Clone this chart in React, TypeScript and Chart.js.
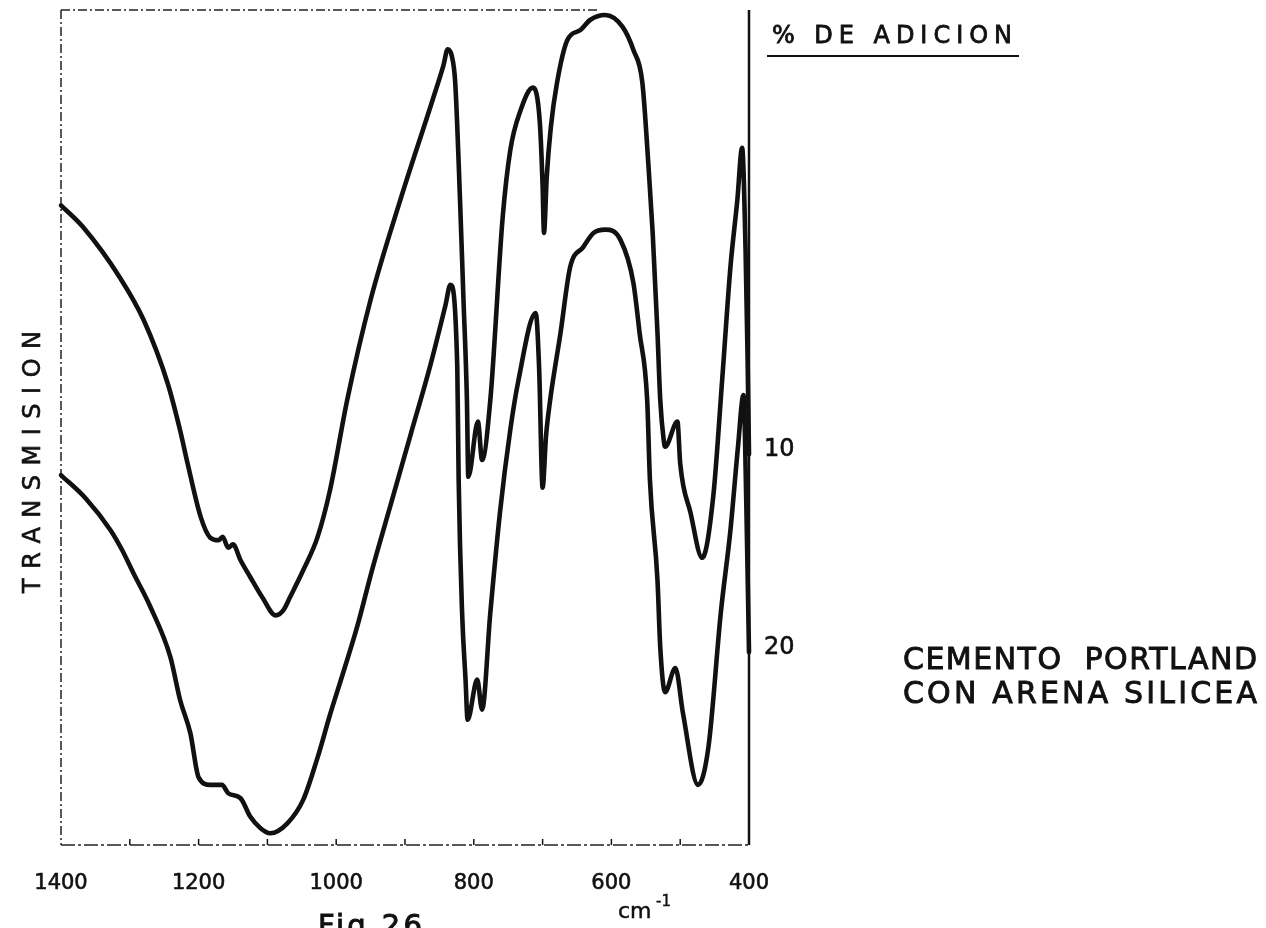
import React, { useEffect, useRef } from "react";
import { Chart, registerables } from "chart.js";

Chart.register(...registerables);

// ---- data (wavenumber in cm-1, transmission in arbitrary %) ----
const upperWavenumbers = [
  1400, 1368, 1314, 1280, 1245, 1227, 1216, 1197, 1183, 1171, 1165, 1157, 1150, 1139, 1125, 1107, 1088, 1077, 1067, 1048,
  1027, 1009, 984, 950, 907, 860, 844, 838, 832, 827, 820, 815, 810, 808, 794, 788,
  776, 758, 747, 732, 714, 704, 700, 698, 694, 688, 679, 664, 645, 631, 609, 584, 568, 555, 546, 540,
  533, 529, 524, 522, 504, 500, 485, 468, 452, 439, 427, 417, 410, 405, 402, 400,
];
const upperTransmission = [
  76.6, 74.0, 67.9, 62.9, 55.3, 49.7, 45.7, 39.3, 36.8, 36.5, 36.9, 35.6, 36.0, 34.1, 32.1, 29.6, 27.5, 28.1, 29.7, 32.9,
  36.9, 42.5, 53.3, 65.3, 77.2, 89.2, 93.4, 95.3, 94.5, 91.3, 77.2, 65.3, 53.3, 44.1, 50.7, 46.1,
  53.3, 75.2, 83.2, 88.0, 90.7, 86.5, 79.0, 73.3, 80.0, 86.0, 91.3, 96.4, 97.6, 98.8, 99.4, 98.0, 95.2, 91.3, 81.2, 73.3,
  61.3, 53.3, 48.5, 47.7, 50.7, 45.7, 39.8, 34.4, 41.7, 55.7, 69.2, 77.2, 83.5, 71.3, 58.1, 46.8,
];

const lowerWavenumbers = [
  1400, 1364, 1328, 1311, 1295, 1270, 1241, 1227, 1212, 1200, 1183, 1166, 1157, 1139, 1125, 1110, 1096, 1071, 1048, 1027,
  1009, 990, 969, 948, 921, 892, 863, 841, 834, 824, 822, 817, 812, 809, 795, 788, 776, 762, 747, 735,
  710, 705, 700, 695, 689, 674, 660, 641, 626, 609, 587, 568, 559, 548, 544, 533, 529, 522, 507, 496,
  474, 459, 441, 427, 416, 408, 404, 400,
];
const lowerTransmission = [
  44.3, 41.5, 37.7, 35.3, 32.6, 28.5, 22.5, 17.4, 13.4, 8.1, 7.2, 7.2, 6.2, 5.6, 3.4, 2.0, 1.4, 2.6, 5.4, 10.5,
  15.6, 20.6, 26.3, 32.9, 40.7, 49.1, 57.5, 64.7, 67.1, 57.2, 43.7, 27.8, 19.8, 15.0, 19.8, 16.2, 27.8, 39.8, 49.7, 55.7,
  63.7, 57.0, 42.8, 49.0, 53.3, 61.3, 69.2, 71.6, 73.3, 73.7, 72.5, 67.3, 61.3, 53.3, 43.7, 31.7, 23.7, 18.3, 21.2, 15.8,
  7.2, 11.7, 27.8, 37.7, 47.7, 53.9, 41.3, 23.1,
];

const seriesLabels = ["10", "20"];
const xTickStep = 100;
const xLabelStep = 200;
const xMin = 400;
const xMax = 1400;
const topBorderEnd = 620; // wavenumber where the printed top frame line stops

const yAxisTitle = "TRANSMISION";
const legendTitle = "% DE ADICION";
const sampleLines = ["CEMENTO  PORTLAND", "CON ARENA SILICEA"];
const figureLabel = "Fig 26";
const unitLabel = "cm";
const unitExp = "-1";

const FONT = "'DejaVu Sans', 'Liberation Sans', sans-serif";
const INK = "#111";

function fitText(ctx: CanvasRenderingContext2D, text: string, x: number, y: number, width: number, font: string, stroke = 0.7) {
  ctx.font = font;
  (ctx as any).letterSpacing = "0px";
  const w = ctx.measureText(text).width;
  const n = Math.max(text.length - 1, 1);
  const s = (width - w) / n;
  (ctx as any).letterSpacing = `${s}px`;
  ctx.textAlign = "left";
  ctx.fillText(text, x, y);
  if (stroke > 0) {
    ctx.lineWidth = stroke;
    ctx.strokeStyle = INK;
    ctx.strokeText(text, x, y);
  }
  (ctx as any).letterSpacing = "0px";
}

function boldText(ctx: CanvasRenderingContext2D, text: string, x: number, y: number, stroke = 0.7) {
  ctx.fillText(text, x, y);
  ctx.lineWidth = stroke;
  ctx.strokeStyle = INK;
  ctx.strokeText(text, x, y);
}

const framePlugin = {
  id: "frame",
  beforeDatasetsDraw(chart: any) {
    const { ctx, chartArea: ca, scales } = chart;
    const x = scales.x;
    ctx.save();
    ctx.strokeStyle = "#222";
    ctx.lineWidth = 1.5;
    ctx.setLineDash([9, 3, 2, 3]);
    ctx.beginPath();
    ctx.moveTo(ca.left, ca.top);
    ctx.lineTo(ca.left, ca.bottom);
    ctx.stroke();
    ctx.beginPath();
    ctx.moveTo(ca.left, ca.top);
    ctx.lineTo(x.getPixelForValue(topBorderEnd), ca.top);
    ctx.stroke();
    ctx.setLineDash([14, 3, 3, 3]);
    ctx.beginPath();
    ctx.moveTo(ca.left, ca.bottom);
    ctx.lineTo(ca.right, ca.bottom);
    ctx.stroke();
    ctx.setLineDash([]);
    ctx.lineWidth = 2.5;
    ctx.strokeStyle = INK;
    ctx.beginPath();
    ctx.moveTo(ca.right, ca.top);
    ctx.lineTo(ca.right, ca.bottom);
    ctx.stroke();
    ctx.lineWidth = 1.5;
    for (const t of x.ticks) {
      if (t.value <= xMin || t.value >= xMax) continue;
      const px = x.getPixelForValue(t.value);
      ctx.beginPath();
      ctx.moveTo(px, ca.bottom);
      ctx.lineTo(px, ca.bottom - 6);
      ctx.stroke();
    }
    ctx.restore();
  },
  afterDraw(chart: any) {
    const { ctx, chartArea: ca, scales } = chart;
    const y = scales.y;
    ctx.save();
    ctx.fillStyle = INK;
    ctx.textBaseline = "alphabetic";

    ctx.save();
    ctx.translate(40, 593);
    ctx.rotate(-Math.PI / 2);
    fitText(ctx, yAxisTitle, 0, 0, 262, `24px ${FONT}`, 0.6);
    ctx.restore();

    fitText(ctx, legendTitle, 772, 43, 240, `24px ${FONT}`, 0.8);
    ctx.strokeStyle = INK;
    ctx.lineWidth = 2;
    ctx.beginPath();
    ctx.moveTo(767, 56);
    ctx.lineTo(1019, 56);
    ctx.stroke();

    const ends = [upperTransmission[upperTransmission.length - 1], lowerTransmission[lowerTransmission.length - 1]];
    ctx.font = `24px ${FONT}`;
    ctx.textAlign = "left";
    ctx.textBaseline = "middle";
    seriesLabels.forEach((lab, i) => {
      boldText(ctx, lab, ca.right + 15, y.getPixelForValue(ends[i]) - 4, 0.6);
    });
    ctx.textBaseline = "alphabetic";

    fitText(ctx, sampleLines[0], 903, 669, 354, `30px ${FONT}`, 0.9);
    fitText(ctx, sampleLines[1], 903, 703, 354, `30px ${FONT}`, 0.9);

    fitText(ctx, figureLabel, 318, 935, 104, `29px ${FONT}`, 1);
    ctx.font = `22px ${FONT}`;
    ctx.textAlign = "left";
    boldText(ctx, unitLabel, 618, 918, 0.5);
    ctx.font = `15px ${FONT}`;
    boldText(ctx, unitExp, 656, 906, 0.4);
    ctx.restore();
  },
};

export default function App() {
  const ref = useRef<HTMLCanvasElement | null>(null);
  useEffect(() => {
    document.body.style.margin = "0";
    const canvas = ref.current;
    if (!canvas) return;
    const toPts = (xs: number[], ys: number[]) => xs.map((v, i) => ({ x: v, y: ys[i] }));
    const lineStyle = {
      borderColor: INK,
      borderWidth: 4.6,
      pointRadius: 0,
      cubicInterpolationMode: "monotone",
      fill: false,
      borderCapStyle: "round",
      borderJoinStyle: "round",
    };
    const chart = new Chart(canvas, {
      type: "line",
      data: {
        datasets: [
          { label: seriesLabels[0], data: toPts(upperWavenumbers, upperTransmission), ...lineStyle },
          { label: seriesLabels[1], data: toPts(lowerWavenumbers, lowerTransmission), ...lineStyle },
        ],
      },
      options: {
        responsive: false,
        animation: false,
        devicePixelRatio: 1,
        clip: false,
        layout: { padding: { left: 61, top: 10, right: 517, bottom: 0 } },
        plugins: { legend: { display: false }, tooltip: { enabled: false }, title: { display: false } },
        scales: {
          x: {
            type: "linear",
            reverse: true,
            min: xMin,
            max: xMax,
            grid: { display: false, drawTicks: false },
            border: { display: false },
            ticks: {
              stepSize: xTickStep,
              autoSkip: false,
              maxRotation: 0,
              padding: 26,
              color: INK,
              textStrokeColor: INK,
              textStrokeWidth: 0.6,
              font: { family: FONT, size: 21 },
              callback: (v: any) => (Number(v) % xLabelStep === 0 ? String(v) : ""),
            },
            afterFit: (s: any) => {
              s.height = 83;
            },
          },
          y: {
            display: false,
            min: 0,
            max: 100,
          },
        },
      },
      plugins: [framePlugin],
    } as any);
    return () => chart.destroy();
  }, []);
  return (
    <div style={{ position: "absolute", left: 0, top: 0, width: 1266, height: 928, background: "#fff" }}>
      <canvas ref={ref} width={1266} height={928} style={{ width: 1266, height: 928, display: "block" }} />
    </div>
  );
}
